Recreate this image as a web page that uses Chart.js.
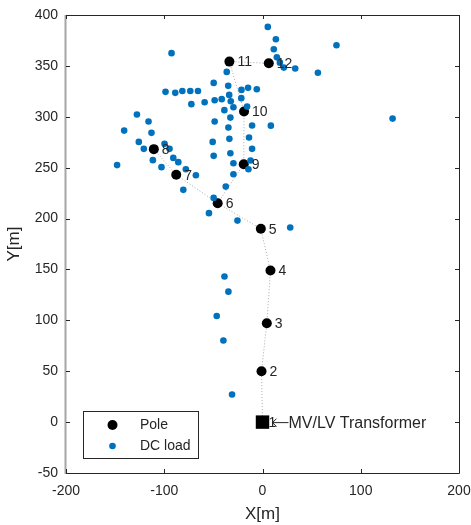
<!DOCTYPE html>
<html>
<head>
<meta charset="utf-8">
<script src="https://cdn.jsdelivr.net/npm/chart.js@4/dist/chart.umd.min.js"></script>
<style>
  html, body { margin: 0; padding: 0; background: #fff; }
  #wrap { width: 471px; height: 525px; }
</style>
</head>
<body>
<div id="wrap"><canvas id="mapa" width="471" height="525"></canvas></div>
<script>
// poles (1 = MV/LV transformer)
const poleNames = ["1", "2", "3", "4", "5", "6", "7", "8", "9", "10", "11", "12"];
const poleX = [0, -1, 4.4, 8.1, -1.7, -45.6, -87.8, -110.6, -19.1, -18.8, -33.7, 6.4];
const poleY = [0, 50, 97.2, 148.9, 189.9, 215.1, 243, 268.2, 253.4, 305.1, 354.2, 352.6];
// conductor links between poles (by pole number)
const linkFrom = [1, 2, 3, 4, 5, 6, 7, 6, 9, 10, 11];
const linkTo = [2, 3, 4, 5, 6, 7, 8, 9, 10, 11, 12];

// DC loads
const loadX = [-92.6, -36.4, -49.7, -34.9, -21.4, -14.7, -5.8, -98.7, -88.8, -81.6,
  -73.5, -65.7, -33.9, -21.6, -48.7, -41.5, -32.3, -58.9, -72.4, -29.6,
  -38.8, -15.7, -127.8, -116.0, -32.7, -48.7, -10.6, -140.8, -113.0, -34.7,
  -13.7, -33.7, -50.7, -125.9, -99.7, -120.8, -94.6, -10.6, -32.7, -49.7,
  -111.6, -90.8, -85.7, -12.2, -148.0, -102.8, -29.6, -78.0, -67.8, -29.6,
  -14.3, 5.4, 13.6, 75.3, 11.5, 14.6, 17.7, 21.7, 33.3, 56.4,
  132.4, 8.5, -80.6, -37.4, -49.7, -54.5, -25.5, 28.2, -38.7, -34.7,
  -46.6, -39.8, -31.0];
const loadY = [362.5, 344.1, 333.3, 330.4, 326.4, 328.4, 327.1, 324.5, 323.5, 325.4,
  325.4, 325.4, 321.5, 318.3, 316.3, 317.3, 315.3, 314.3, 312.4, 309.4,
  306.5, 310.0, 302.2, 295.3, 299.2, 295.3, 291.4, 286.4, 284.2, 289.4,
  279.6, 278.3, 275.3, 275.3, 273.4, 268.5, 268.5, 268.5, 264.2, 261.6,
  257.4, 259.6, 255.4, 257.0, 252.5, 250.5, 254.4, 248.5, 242.6, 243.6,
  248.5, 388.3, 376.2, 370.3, 366.4, 358.4, 353.2, 348.3, 347.4, 343.3,
  298.2, 291.3, 228.2, 231.4, 220.3, 205.3, 198.0, 191.2, 143.0, 128.2,
  104.2, 80.2, 27.1];

const xTicks = [-200, -100, 0, 100, 200];
const yTicks = [-50, 0, 50, 100, 150, 200, 250, 300, 350, 400];
const legendNames = ["Pole", "DC load"];
const transformerText = "MV/LV Transformer";

const FONT = "'Liberation Sans', Arial, Helvetica, sans-serif";
const AXIS = "#262626";
const BLUE = "#0072BD";

// build datasets
const datasets = [];
datasets.push({
  label: "DC load",
  data: loadX.map((x, i) => ({ x: x, y: loadY[i] })),
  pointRadius: 3.3,
  pointBackgroundColor: BLUE,
  pointBorderWidth: 0,
  showLine: false,
  order: 1
});
datasets.push({
  label: "Pole",
  data: poleX.slice(1).map((x, i) => ({ x: x, y: poleY[i + 1] })),
  pointRadius: 5,
  pointBackgroundColor: "#000",
  pointBorderWidth: 0,
  showLine: false,
  order: 2
});
datasets.push({
  label: "Transformer",
  data: [{ x: poleX[0], y: poleY[0] }],
  pointStyle: "rect",
  pointRadius: 9.5,
  pointBackgroundColor: "#000",
  pointBorderWidth: 0,
  showLine: false,
  order: 2
});
linkFrom.forEach((a, i) => {
  const b = linkTo[i];
  datasets.push({
    label: "link",
    data: [{ x: poleX[a - 1], y: poleY[a - 1] }, { x: poleX[b - 1], y: poleY[b - 1] }],
    showLine: true,
    borderColor: "#a8a8a8",
    borderWidth: 1,
    borderDash: [1, 2],
    pointRadius: 0,
    order: 3
  });
});

// box, inward ticks, labels, legend
const decor = {
  id: "decor",
  afterDraw(chart) {
    const ctx = chart.ctx;
    const a = chart.chartArea;
    const sx = chart.scales.x, sy = chart.scales.y;
    ctx.save();

    // pole numbers
    ctx.font = "14px " + FONT;
    ctx.fillStyle = AXIS;
    ctx.textAlign = "left";
    ctx.textBaseline = "middle";
    for (let i = 1; i < poleX.length; i++) {
      ctx.fillText(poleNames[i], sx.getPixelForValue(poleX[i]) + 8, sy.getPixelForValue(poleY[i]) + 1);
    }

    // transformer label
    const tx = sx.getPixelForValue(poleX[0]);
    const ty = sy.getPixelForValue(poleY[0]);
    ctx.fillText(poleNames[0], tx + 6, ty + 1);
    ctx.strokeStyle = AXIS;
    ctx.lineWidth = 1;
    ctx.beginPath();
    ctx.moveTo(tx + 10, ty + 0.5);
    ctx.lineTo(tx + 26, ty + 0.5);
    ctx.moveTo(tx + 14, ty - 3.5);
    ctx.lineTo(tx + 10, ty + 0.5);
    ctx.lineTo(tx + 14, ty + 4.5);
    ctx.stroke();
    ctx.font = "16px " + FONT;
    ctx.fillText(transformerText, tx + 26, ty + 1);

    // axes box
    ctx.strokeStyle = AXIS;
    ctx.lineWidth = 1;
    ctx.beginPath();
    ctx.moveTo(a.left, a.top + 0.5);
    ctx.lineTo(a.right + 0.5, a.top + 0.5);
    ctx.lineTo(a.right + 0.5, a.bottom + 0.5);
    ctx.lineTo(a.left, a.bottom + 0.5);
    ctx.stroke();
    ctx.strokeStyle = "#a6a6a6";
    ctx.lineWidth = 2;
    ctx.beginPath();
    ctx.moveTo(a.left - 0.5, a.top);
    ctx.lineTo(a.left - 0.5, a.bottom + 1);
    ctx.stroke();

    ctx.strokeStyle = AXIS;
    ctx.lineWidth = 1;
    ctx.beginPath();
    xTicks.forEach(v => {
      const p = Math.round(sx.getPixelForValue(v)) + 0.5;
      ctx.moveTo(p, a.bottom);
      ctx.lineTo(p, a.bottom - 4);
      ctx.moveTo(p, a.top);
      ctx.lineTo(p, a.top + 4);
    });
    yTicks.forEach(v => {
      const p = Math.round(sy.getPixelForValue(v)) + 0.5;
      ctx.moveTo(a.left, p);
      ctx.lineTo(a.left + 4, p);
      ctx.moveTo(a.right, p);
      ctx.lineTo(a.right - 4, p);
    });
    ctx.stroke();

    // legend
    const lx = a.left + 17.5, ly = a.bottom - 61.5, lw = 115, lh = 47;
    ctx.fillStyle = "#fff";
    ctx.fillRect(lx, ly, lw, lh);
    ctx.strokeStyle = AXIS;
    ctx.strokeRect(lx, ly, lw, lh);
    ctx.fillStyle = "#000";
    ctx.beginPath();
    ctx.arc(lx + 29, ly + 13.5, 5, 0, Math.PI * 2);
    ctx.fill();
    ctx.fillStyle = BLUE;
    ctx.beginPath();
    ctx.arc(lx + 29, ly + 34.5, 3.3, 0, Math.PI * 2);
    ctx.fill();
    ctx.font = "14px " + FONT;
    ctx.fillStyle = AXIS;
    ctx.textAlign = "left";
    ctx.textBaseline = "middle";
    ctx.fillText(legendNames[0], lx + 56.5, ly + 14);
    ctx.fillText(legendNames[1], lx + 56.5, ly + 35);
    ctx.restore();
  }
};

new Chart(document.getElementById("mapa"), {
  type: "scatter",
  data: { datasets: datasets },
  options: {
    responsive: false,
    animation: false,
    layout: { padding: { left: 0, right: 12, top: 15, bottom: 0 } },
    plugins: { legend: { display: false }, tooltip: { enabled: false } },
    scales: {
      x: {
        type: "linear",
        min: -200, max: 200,
        afterBuildTicks: s => { s.ticks = xTicks.map(v => ({ value: v })); },
        afterFit: s => { s.height = 52; s.paddingLeft = 0; s.paddingRight = 0; },
        grid: { display: false, drawTicks: false },
        border: { display: false },
        ticks: { color: AXIS, font: { family: FONT, size: 14 }, padding: 10, maxRotation: 0 },
        title: { display: true, text: "X[m]", color: AXIS, font: { family: FONT, size: 17 }, padding: { top: 0, bottom: 0 } }
      },
      y: {
        type: "linear",
        min: -50, max: 400,
        afterBuildTicks: s => { s.ticks = yTicks.map(v => ({ value: v })); },
        afterFit: s => { s.width = 66; s.paddingTop = 0; s.paddingBottom = 0; },
        grid: { display: false, drawTicks: false },
        border: { display: false },
        ticks: { color: AXIS, font: { family: FONT, size: 14 }, padding: 8 },
        title: { display: true, text: "Y[m]", color: AXIS, font: { family: FONT, size: 17 }, padding: { top: 4, bottom: 0 } }
      }
    }
  },
  plugins: [decor]
});
</script>
</body>
</html>
